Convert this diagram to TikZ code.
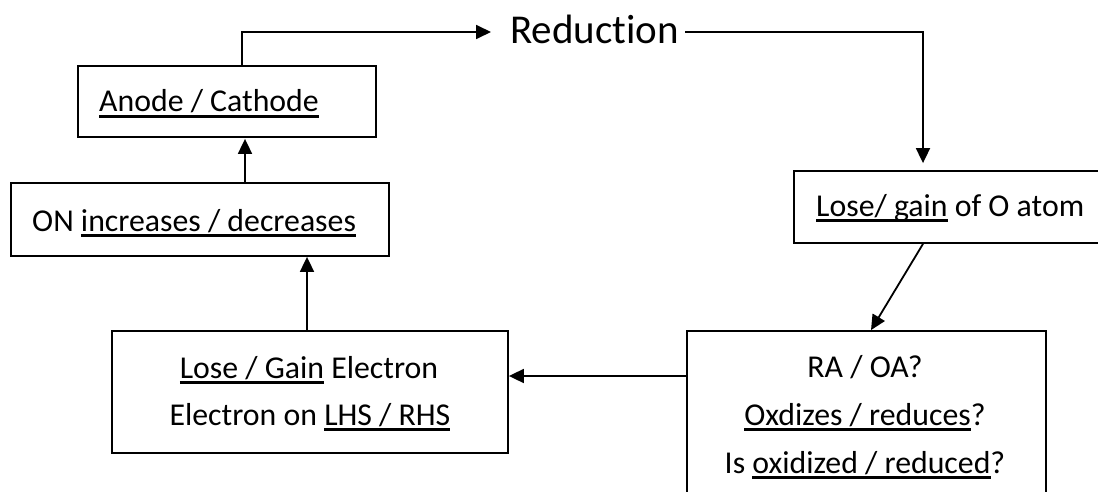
\documentclass[tikz,border=0pt]{standalone}
\usepackage{fontspec}
\setmainfont{Carlito}[Ligatures=NoCommon]
\usetikzlibrary{arrows.meta,calc}
\newlength\myulw
\newcommand\myul[1]{\settowidth\myulw{#1}\rlap{\rule[-5.6pt]{\myulw}{2.4pt}}#1}
\tikzset{
  box/.style={draw, line width=1.8pt, rectangle, inner sep=0pt},
  txt/.style={inner sep=0pt, anchor=base west, font=\fontsize{31.8}{38}\selectfont},
  ctxt/.style={inner sep=0pt, anchor=base, font=\fontsize{31.8}{38}\selectfont},
  arr/.style={line width=1.8pt, -{Triangle[length=15pt,width=14pt]}},
  conn/.style={line width=1.8pt}
}
\begin{document}
\begin{tikzpicture}[x=1pt,y=-1pt]
\useasboundingbox (0,0) rectangle (1098,492);
\clip (0,0) rectangle (1098,492);
% boxes
\node[box, minimum width=298pt, minimum height=71pt] (anode) at (227,101.5) {};
\node[box, minimum width=378pt, minimum height=73pt] (on) at (200,219.5) {};
\node[box, minimum width=396pt, minimum height=122pt] (lg) at (310,392) {};
\node[box, minimum width=310pt, minimum height=72pt] (og) at (949,207) {};
\node[box, minimum width=359pt, minimum height=200pt] (ra) at (866.5,431) {};
% texts
\node[txt] (tanode) at (99,112) {\myul{Anode / Cathode}};
\node[txt] (ton) at (32,231) {ON \myul{increases / decreases}};
\node[txt] (tog) at (816,216) {\myul{Lose/ gain} of O atom};
\node[ctxt] (tlg1) at (309,378) {\myul{Lose / Gain} Electron};
\node[ctxt] (tlg2) at (310,425) {Electron on \myul{LHS / RHS}};
\node[ctxt] (tra1) at (865,377) {RA / OA?};
\node[ctxt] (tra2) at (865,425) {\myul{Oxdizes / reduces}?};
\node[ctxt] (tra3) at (865,473) {Is \myul{oxidized / reduced}?};
\node[inner sep=0pt, anchor=base west, font=\fontsize{41}{48}\selectfont] (red) at (510,44) {Reduction};
% helper coordinates for connector columns
\coordinate (xa) at (242,32);
\coordinate (xb) at (923,32);
\coordinate (xc) at (871,0);
\coordinate (xd) at (307,0);
\coordinate (xe) at (245,0);
% connectors
\draw[arr, shorten >=19pt] (anode.north -| xa) |- (red.west |- xa);
\draw[arr, shorten <=6pt, shorten >=7pt] (red.east |- xb) -| (og.north -| xb);
\draw[arr] (og.south -| xb) -- (ra.north -| xc);
\draw[arr] (ra.west |- 0,376) -- (lg.east |- 0,376);
\draw[arr] (lg.north -| xd) -- (on.south -| xd);
\draw[arr, shorten >=1pt] (on.north -| xe) -- (anode.south -| xe);
\end{tikzpicture}
\end{document}
